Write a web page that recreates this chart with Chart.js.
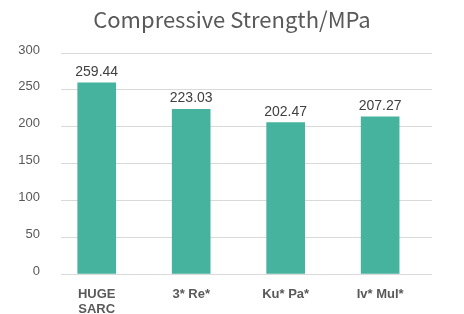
<!DOCTYPE html>
<html>
<head>
<meta charset="utf-8">
<script src="https://cdn.jsdelivr.net/npm/chart.js@4/dist/chart.umd.min.js"></script>
<style>
    html, body { margin: 0; padding: 0; background: #fff; }
    #wrap { width: 464px; height: 314px; }
</style>
</head>
<body>
<div id="wrap"><canvas id="grafica"></canvas></div>
<script>
    // datos
    const titulo = 'Compressive Strength/MPa';
    const categorias = [['HUGE', 'SARC'], '3* Re*', 'Ku* Pa*', 'Iv* Mul*'];
    const resistencias = [259.4, 223.6, 205.4, 213.2];
    const etiquetas = ['259.44', '223.03', '202.47', '207.27'];
    const ticksY = [0, 50, 100, 150, 200, 250, 300];

    const gris = '#595959';

    // titulo centrado en todo el lienzo
    const tituloCentrado = {
        id: 'tituloCentrado',
        afterDraw(chart) {
            const ctx = chart.ctx;
            ctx.save();
            ctx.font = '22px "Noto Sans CJK SC", "Noto Sans", sans-serif';
            ctx.fillStyle = gris;
            ctx.textAlign = 'center';
            ctx.textBaseline = 'alphabetic';
            ctx.fillText(titulo, chart.width / 2, 28);
            ctx.restore();
        }
    };

    const etiquetasBarras = {
        id: 'etiquetasBarras',
        afterDatasetsDraw(chart) {
            const ctx = chart.ctx;
            const meta = chart.getDatasetMeta(0);
            ctx.save();
            ctx.font = '14px "Liberation Sans", Arial, sans-serif';
            ctx.fillStyle = '#404040';
            ctx.textAlign = 'center';
            ctx.textBaseline = 'alphabetic';
            meta.data.forEach((bar, i) => {
                ctx.fillText(etiquetas[i], bar.x, bar.y - 7);
            });
            ctx.restore();
        }
    };

    new Chart(document.getElementById('grafica'), {
        type: 'bar',
        data: {
            datasets: [{
                data: resistencias.map((v, i) => ({ x: i, y: v })),
                backgroundColor: '#45B39D',
                borderWidth: 0,
                barThickness: 38
            }]
        },
        options: {
            responsive: true,
            maintainAspectRatio: false,
            animation: false,
            layout: { padding: { left: 0, right: 32, top: 53, bottom: 0 } },
            plugins: {
                legend: { display: false },
                tooltip: { enabled: false },
                title: { display: false }
            },
            scales: {
                x: {
                    type: 'linear',
                    offset: false,
                    min: -0.378,
                    max: 3.549,
                    grid: { display: false, drawTicks: false },
                    border: { display: false },
                    afterBuildTicks(scale) {
                        scale.ticks = categorias.map((_, i) => ({ value: i }));
                    },
                    afterFit(scale) { scale.height = 40; },
                    ticks: {
                        autoSkip: false,
                        maxRotation: 0,
                        padding: 13,
                        color: gris,
                        font: { family: '"Liberation Sans", Arial, sans-serif', size: 13, weight: 'bold', lineHeight: 1.15 },
                        callback: (v) => categorias[v]
                    }
                },
                y: {
                    min: 0,
                    max: 300,
                    afterBuildTicks(scale) {
                        scale.ticks = ticksY.map(v => ({ value: v }));
                    },
                    afterFit(scale) { scale.width = 61; },
                    grid: { color: '#D9D9D9', lineWidth: 1, drawTicks: false },
                    border: { display: false },
                    ticks: {
                        padding: 21,
                        labelOffset: -3,
                        color: gris,
                        font: { family: '"Liberation Sans", Arial, sans-serif', size: 13 }
                    }
                }
            }
        },
        plugins: [etiquetasBarras, tituloCentrado]
    });
</script>
</body>
</html>
